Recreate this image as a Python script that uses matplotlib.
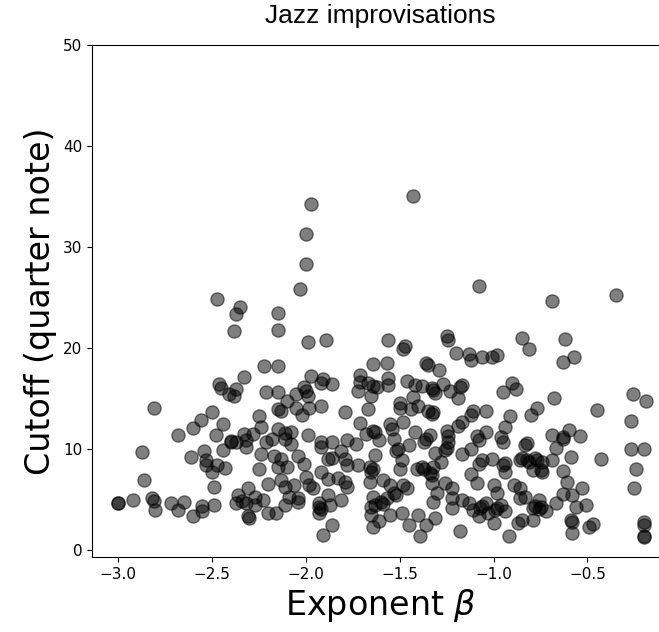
import matplotlib
matplotlib.use("Agg")
import matplotlib.pyplot as plt
import numpy as np

# exponent beta (x) and cutoff in quarter notes (y)
exponent = [
    # upper part
    -1.97, -2.00, -2.00, -2.03, -2.47, -2.35, -2.37, -2.15,
    -1.43, -1.08, -0.69, -0.35,
    # left middle
    -2.38, -2.46, -2.45, -2.41, -2.38, -2.81, -2.50, -2.56, -2.60, -2.44, -2.68, -2.48, -2.40,
    -2.15, -1.99, -1.89, -2.22, -2.15, -1.64, -2.33, -1.97, -1.91, -1.92, -1.86, -1.71, -1.71,
    -1.67, -1.64, -1.72, -1.65, -2.37, -2.21, -2.15, -2.05, -2.01, -2.00, -1.99, -2.10, -2.05,
    -2.13, -2.15, -1.98, -1.92, -2.02, -1.79, -1.67, -2.25, -2.24, -1.71, -2.33, -2.28, -2.15,
    -2.11, -2.08, -1.99, -1.68, -1.64,
    # centre middle
    -1.56, -1.47, -1.48, -1.25, -1.24, -1.20, -1.13, -1.12, -1.06, -1.01, -0.98, -1.57, -1.36,
    -1.35, -1.29, -1.56, -1.56, -1.62, -1.46, -1.42, -1.38, -1.32, -1.33, -1.31, -1.27, -1.23,
    -1.18, -1.17, -1.19, -0.95, -0.90, -1.43, -1.50, -1.50, -1.44, -1.40, -1.35, -1.33, -1.32,
    -1.11, -1.12, -1.04, -1.17, -1.19, -0.91, -0.94, -1.55, -1.54, -1.48, -1.63, -1.42, -1.34,
    -1.25, -1.24, -1.09, -1.04, -0.96,
    # right middle
    -0.85, -0.81, -0.62, -0.63, -0.57, -0.88, -0.68, -0.77, -0.80, -0.45, -0.26, -0.19, -0.27,
    -0.69, -0.60, -0.63, -0.54,
    # lower left
    -2.40, -2.87, -2.44, -2.54, -2.61, -2.53, -2.53, -2.47, -2.43, -2.50, -2.86, -2.49, -3.00,
    -3.00, -2.92, -2.82, -2.81, -2.80, -2.72, -2.65, -2.68, -2.60, -2.55, -2.55, -2.49,
    # lower centre-left
    -2.32, -2.32, -2.37, -2.21, -2.18, -2.11, -2.08, -2.24, -2.17, -2.13, -2.15, -2.10, -2.04,
    -2.01, -2.25, -1.92, -1.92, -1.86, -1.78, -1.73, -1.81, -1.86, -1.88, -1.79, -1.78, -1.72,
    -1.66, -1.65, -1.92, -2.00, -1.98, -1.96, -1.88, -1.83, -1.79, -1.78, -1.66, -2.20, -2.31,
    -2.13, -2.11, -2.06, -2.09, -2.04, -2.04, -2.11, -2.36, -2.37, -2.32, -2.27, -2.23, -2.27,
    -2.20, -2.16, -2.30, -1.93, -1.93, -1.88, -1.93, -1.87, -1.81, -1.86, -1.91, -1.65, -1.65,
    -1.64, -2.31, -1.92, -2.34,
    # lower centre-right
    -0.95, -1.61, -1.53, -1.51, -1.45, -1.37, -1.36, -1.24, -1.26, -1.31, -1.17, -1.12, -1.08,
    -1.63, -1.64, -1.49, -1.50, -1.41, -1.37, -1.32, -1.28, -1.33, -1.33, -1.26, -1.22, -1.30,
    -1.32, -1.22, -1.17, -1.22, -1.12, -1.09, -1.08, -1.01, -1.06, -0.95, -0.94, -1.00, -0.89,
    -0.98, -1.13, -1.11, -1.07, -1.04, -1.03, -0.99, -0.96, -0.94, -1.00, -1.08, -0.92, -1.18,
    -1.40, -1.31, -1.45, -1.36, -1.39, -1.49, -1.55, -1.61, -1.60, -1.63, -1.57, -1.53, -1.48,
    -1.46, -1.55, -1.59, -1.64, -1.25, -1.38, -1.34, -1.06, -0.98, -1.59, -1.52, -1.52, -0.94,
    # lower right
    -0.83, -0.63, -0.67, -0.59, -0.43, -0.27, -0.20, -0.24, -0.25, -0.86, -0.82, -0.77, -0.74,
    -0.69, -0.79, -0.74, -0.63, -0.61, -0.53, -0.63, -0.58, -0.86, -0.86, -0.83, -0.76, -0.67,
    -0.79, -0.75, -0.72, -0.56, -0.51, -0.85, -0.87, -0.79, -0.59, -0.58, -0.58, -0.49, -0.47,
    -0.20, -0.20, -0.20, -0.20, -0.85, -0.81, -0.78, -0.75, -0.78, -0.76, -0.82,
]
cutoff = [
    34.2, 31.3, 28.3, 25.8, 24.8, 24.0, 23.4, 23.5,
    35.0, 26.1, 24.6, 25.2,
    21.7, 16.4, 16.0, 15.4, 15.2, 14.0, 13.6, 12.9, 12.1, 12.5, 11.4, 11.4, 10.8,
    21.8, 20.6, 20.8, 18.2, 18.2, 18.4, 17.1, 17.2, 16.9, 16.5, 16.4, 17.3, 16.6,
    16.5, 16.2, 15.7, 15.2, 15.9, 15.6, 15.6, 15.4, 16.1, 15.7, 15.2, 14.7, 14.0,
    13.7, 13.9, 14.0, 14.2, 13.3, 13.6, 13.9, 13.2, 12.2, 12.6, 11.5, 11.5, 12.0,
    11.6, 11.7, 11.4, 11.5, 11.8,
    20.8, 20.2, 19.9, 21.2, 20.8, 19.5, 19.4, 18.8, 19.1, 19.1, 19.3, 18.5, 18.5,
    18.3, 17.8, 17.0, 16.3, 16.1, 16.7, 16.3, 16.2, 15.8, 16.0, 15.5, 16.4, 15.7,
    16.1, 16.3, 15.0, 15.6, 16.5, 15.1, 14.5, 14.0, 13.9, 14.2, 13.7, 13.4, 13.6,
    13.7, 13.3, 13.7, 12.7, 12.3, 13.2, 12.2, 12.5, 12.0, 12.7, 11.7, 11.7, 11.4,
    11.8, 11.3, 11.3, 11.7, 11.2,
    21.0, 19.9, 20.9, 18.6, 19.1, 15.9, 15.0, 14.0, 13.3, 13.8, 15.4, 14.7, 12.8,
    11.4, 11.9, 11.2, 11.3,
    10.7, 9.7, 9.9, 9.8, 9.2, 8.9, 8.4, 8.4, 8.1, 7.7, 6.9, 6.2, 4.6,
    4.6, 4.9, 5.1, 4.8, 3.9, 4.6, 4.7, 3.9, 3.3, 4.3, 3.8, 4.4,
    10.9, 10.2, 10.7, 10.7, 11.0, 11.0, 10.5, 9.5, 9.3, 9.0, 8.2, 8.2, 9.3,
    8.5, 8.0, 10.7, 10.2, 10.7, 10.9, 10.5, 9.8, 9.1, 9.0, 9.0, 8.4, 8.4,
    8.2, 7.7, 7.7, 7.2, 6.4, 6.1, 7.0, 7.1, 6.7, 6.2, 6.7, 6.5, 6.1,
    6.9, 6.2, 6.4, 5.2, 5.1, 4.7, 4.4, 5.4, 4.6, 4.6, 5.2, 4.9, 4.4,
    3.6, 3.6, 3.1, 4.6, 4.2, 5.4, 3.6, 4.4, 4.9, 2.4, 1.5, 4.2, 3.4,
    2.3, 3.3, 4.0, 4.8,
    10.7, 10.9, 11.0, 10.0, 10.4, 10.7, 11.0, 10.7, 9.9, 9.6, 9.5, 10.0, 10.9,
    9.4, 8.0, 8.9, 8.0, 8.0, 8.0, 8.2, 8.7, 7.4, 6.6, 6.6, 6.1, 5.6,
    4.7, 5.1, 4.9, 4.1, 7.5, 6.6, 8.5, 9.0, 8.9, 8.4, 7.7, 6.4, 6.4,
    5.6, 4.6, 3.9, 4.1, 4.6, 3.6, 3.9, 4.4, 3.8, 2.6, 3.3, 1.4, 1.9,
    3.4, 3.1, 2.4, 2.4, 1.4, 3.6, 3.4, 2.8, 4.7, 4.4, 5.1, 5.6, 6.4,
    6.1, 6.4, 6.9, 5.2, 10.1, 8.2, 7.6, 4.3, 4.1, 4.5, 5.4, 9.8, 8.6,
    10.4, 11.0, 10.1, 9.2, 9.0, 10.0, 10.0, 8.0, 6.1, 8.9, 8.9, 8.9, 8.7,
    8.9, 7.9, 7.7, 7.8, 6.7, 6.1, 5.5, 5.4, 6.1, 5.1, 5.2, 4.9, 4.6,
    4.1, 4.2, 3.8, 4.2, 4.4, 2.9, 2.6, 2.9, 2.9, 2.7, 1.7, 2.3, 2.5,
    2.7, 2.4, 1.4, 1.3, 9.1, 8.7, 9.1, 7.9, 4.3, 4.0, 10.6,
]

fig = plt.figure(figsize=(6.59, 6.32), dpi=100)
ax = fig.add_axes([0.1396, 0.119, 0.875, 0.8098])

ax.scatter(exponent, cutoff, s=90, c="k", alpha=0.5)

ax.set_xlim(-3.138, -0.068)
ax.set_ylim(-0.7, 50)
ax.set_xticks([-3.0, -2.5, -2.0, -1.5, -1.0, -0.5])
ax.set_yticks([0, 10, 20, 30, 40, 50])
ax.tick_params(labelsize=11)

ax.set_xlabel(r"Exponent $\beta$", fontsize=24)
ax.set_ylabel("Cutoff (quarter note)", fontsize=24)
ax.set_title("Jazz improvisations", fontsize=19,
             family=["Liberation Sans", "DejaVu Sans"], pad=16)

fig.savefig("out.png", dpi=100)
